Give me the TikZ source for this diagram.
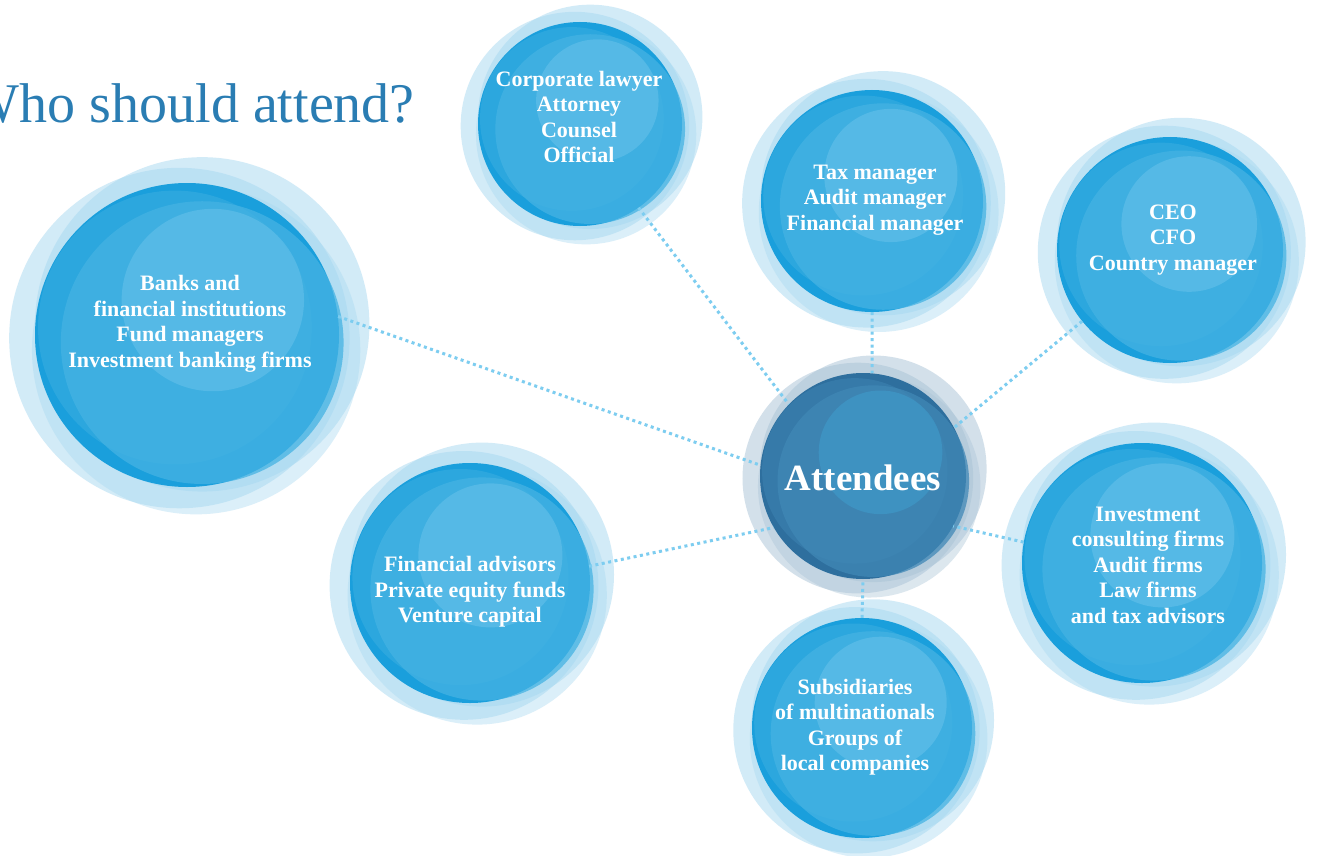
\documentclass[tikz,border=0pt]{standalone}
\usepackage{fontspec}
\setmainfont{Liberation Serif}
\definecolor{bhalo}{HTML}{A6D8F1}
\definecolor{bedge}{HTML}{1A9FDC}
\definecolor{bmidA}{HTML}{35ABE0}
\definecolor{bmidB}{HTML}{45B3E3}
\definecolor{bhigh}{HTML}{6CC4EB}
\definecolor{ahalo}{HTML}{A9C3D6}
\definecolor{aedge}{HTML}{2E6F9E}
\definecolor{amidA}{HTML}{3A7FAF}
\definecolor{amidB}{HTML}{4088B6}
\definecolor{ahigh}{HTML}{3FA0D0}
\definecolor{lineblue}{HTML}{7DCDF0}
\definecolor{titleblue}{HTML}{2A7DB3}
\tikzset{
  conn/.style={draw=lineblue, line width=3pt, dash pattern=on 3pt off 3.5pt},
  ctext/.style={text=white, font=\fontsize{22}{25.5}\selectfont\bfseries, align=center, inner sep=0pt},
  hub/.style={circle, inner sep=0pt, minimum size=#1},
}
\newcommand{\bubble}[5]{%
  \begin{scope}[shift={(#2,#3)}]
    \fill[#5halo, opacity=.5] (-0.05*#4, 0.02*#4) circle (1.12*#4);
    \fill[#5halo, opacity=.5] (0.10*#4, -0.07*#4) circle (1.10*#4);
    \fill[#5halo, opacity=.4] (0.06*#4, 0.10*#4) circle (1.08*#4);
    \fill[#5edge] (0,0) circle (#4);
    \fill[#5midA, opacity=.7] (-0.08*#4, -0.05*#4) circle (0.90*#4);
    \fill[#5midB, opacity=.75] (0.10*#4, 0.05*#4) circle (0.93*#4);
    \fill[#5high, opacity=.5] (0.17*#4, -0.23*#4) circle (0.60*#4);
  \end{scope}
  \node[hub={2*#4pt}] (#1) at (#2,#3) {};
}
\begin{document}
\begin{tikzpicture}[x=1pt,y=-1pt]
\useasboundingbox (0,0) rectangle (1317,856);
\clip (0,0) rectangle (1317,856);
\fill[white] (0,0) rectangle (1317,856);
\node[anchor=base east, text=titleblue, font=\fontsize{56}{60}\selectfont, inner sep=0pt] (title) at (415,123) {Who should attend?};
\bubble{banks}{187}{335}{152}{b}
\bubble{corp}{580}{124}{102}{b}
\bubble{tax}{872}{201}{111}{b}
\bubble{ceo}{1170}{250}{113}{b}
\bubble{inv}{1142}{563}{120}{b}
\bubble{subs}{862}{728}{110}{b}
\bubble{fin}{470}{583}{120}{b}
\bubble{att}{863}{476}{103}{a}
\draw[conn] (banks.7) -- (att.174);
\draw[conn] (corp.305) -- (att.136);
\draw[conn] (tax.270) -- (att.85);
\draw[conn] (ceo.219) -- (att.28);
\draw[conn] (inv.170) -- (att.331);
\draw[conn] (subs.90) -- (att.270);
\draw[conn] (fin.8) -- (att.210);
\node[ctext] (banks-t) at (190,324) {Banks and\\financial institutions\\Fund managers\\Investment banking firms};
\node[ctext] (corp-t) at (579,117) {Corporate lawyer\\Attorney\\Counsel\\Official};
\node[ctext] (tax-t) at (875,200) {Tax manager\\Audit manager\\Financial manager};
\node[ctext] (ceo-t) at (1173,240) {CEO\\CFO\\Country manager};
\node[ctext] (inv-t) at (1148,565) {Investment\\consulting firms\\Audit firms\\Law firms\\and tax advisors};
\node[ctext] (subs-t) at (855,727) {Subsidiaries\\of multinationals\\Groups of\\local companies};
\node[ctext] (fin-t) at (470,592) {Financial advisors\\Private equity funds\\Venture capital};
\node[text=white, font=\fontsize{37}{40}\selectfont\bfseries, inner sep=0pt] (att-t) at (863,478) {Attendees};
\end{tikzpicture}
\end{document}
